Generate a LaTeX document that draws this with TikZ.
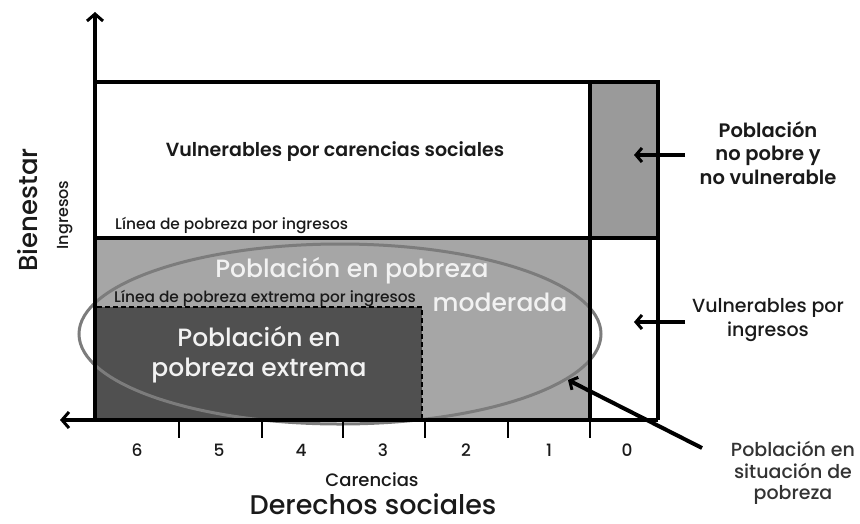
\documentclass[tikz,border=0pt]{standalone}
\usepackage{fontspec}
\setmainfont{Poppins Medium}[BoldFont={Poppins SemiBold}]
\usetikzlibrary{arrows.meta}
\definecolor{midgray}{HTML}{A6A6A6}
\definecolor{boxgray}{HTML}{9A9A9A}
\definecolor{darkgray}{HTML}{505050}
\definecolor{ellgray}{HTML}{7C7C7C}
\definecolor{inkgray}{HTML}{1A1A1A}
\tikzset{
  frame/.style={line width=4pt},
  axis/.style={line width=4pt,-{Straight Barb[length=7pt,width=16pt,line width=3pt]}},
  tickline/.style={line width=1.6pt},
  pointer/.style={line width=4pt,-{Straight Barb[length=6pt,width=14pt,line width=3pt]}},
  label/.style={font=\fontsize{19}{23.5}\selectfont, align=center, inner sep=0pt, text=inkgray},
  small/.style={font=\fontsize{15.4}{17}\selectfont, inner sep=0pt, text=inkgray},
  whitetext/.style={font=\fontsize{25}{30}\selectfont, text=white!95!black, align=center, inner sep=0pt},
  num/.style={font=\fontsize{17}{18}\selectfont, inner sep=0pt, text=inkgray}
}
\begin{document}
\begin{tikzpicture}[x=1pt,y=-1pt]
\useasboundingbox (0,0) rectangle (860,523);
% fills
\fill[midgray] (95,238) rectangle (590,420);
\fill[boxgray] (590,82) rectangle (658,238);
\fill[darkgray] (97,307) rectangle (422,420);
\draw[dashed, line width=1.5pt, dash pattern=on 5pt off 3pt] (97,307) -- (422,307) -- (422,420);
% ellipse
\draw[ellgray, line width=3pt] (340,334) ellipse [x radius=261, y radius=90];
% frame lines
\coordinate (TL) at (95,82);
\coordinate (TR) at (658,82);
\coordinate (BR) at (658,420);
\coordinate (ML) at (95,238);
\coordinate (MR) at (658,238);
\coordinate (DT) at (590,82);
\coordinate (DB) at (590,420);
\draw[frame] (TL) -- (TR) -- (BR);
\draw[frame] (ML) -- (MR);
\draw[frame] (DT) -- (DB);
% axes
\coordinate (O) at (95,420);
\coordinate (Ytip) at (95,12);
\coordinate (Xtip) at (60,420);
\draw[axis] (O) -- (Ytip);
\draw[axis] (BR) -- (Xtip);
% ticks
\foreach \x in {179,262,343,425,508,590} \draw[tickline] (\x,420) -- (\x,438);
% numbers
\foreach \x/\n in {137/6,219/5,301/4,383/3,466/2,549/1,627/0}
  \node[num] (n\n) at (\x,450) {\n};
\node[font=\fontsize{18}{20}\selectfont, inner sep=0pt, text=inkgray] (carencias) at (372,480) {Carencias};
\node[font=\fontsize{27}{30}\selectfont, inner sep=0pt, anchor=base, text=inkgray] (derechos) at (373,514) {Derechos sociales};
\node[font=\fontsize{26}{30}\selectfont, inner sep=0pt, rotate=90, text=inkgray] (bienestar) at (28,210) {Bienestar};
\node[font=\fontsize{16}{18}\selectfont, inner sep=0pt, rotate=90, text=inkgray] (ingresos) at (65,215) {Ingresos};
% texts in regions
\node[label, font=\bfseries\fontsize{19}{23.5}\selectfont] (vcs) at (335,152) {Vulnerables por carencias sociales};
\node[small, anchor=west] (lpi) at (115,225) {Línea de pobreza por ingresos};
\node[small, anchor=west] (lpe) at (114,298) {Línea de pobreza extrema por ingresos};
\node[whitetext] (pm1) at (352,271) {Población en pobreza};
\node[whitetext] (pm2) at (500,302) {moderada};
\node[whitetext] (pe) at (259,355) {Población en\\pobreza extrema};
% right labels
\node[label, font=\bfseries\fontsize{19.5}{23.5}\selectfont] (nopobre) at (768,153) {Población\\no pobre y\\no vulnerable};
\node[label] (vi) at (768,320) {Vulnerables por\\ingresos};
\node[label, font=\fontsize{19}{21.5}\selectfont, text=black!80] (sp) at (793,473) {Población en\\situación de\\pobreza};
\coordinate (a1s) at (685,155);
\coordinate (a1e) at (634,155);
\coordinate (a2s) at (685,322);
\coordinate (a2e) at (634,322);
\coordinate (a3s) at (702,448);
\coordinate (a3e) at (568,380);
\draw[pointer] (a1s) -- (a1e);
\draw[pointer] (a2s) -- (a2e);
\draw[pointer] (a3s) -- (a3e);
\end{tikzpicture}
\end{document}
